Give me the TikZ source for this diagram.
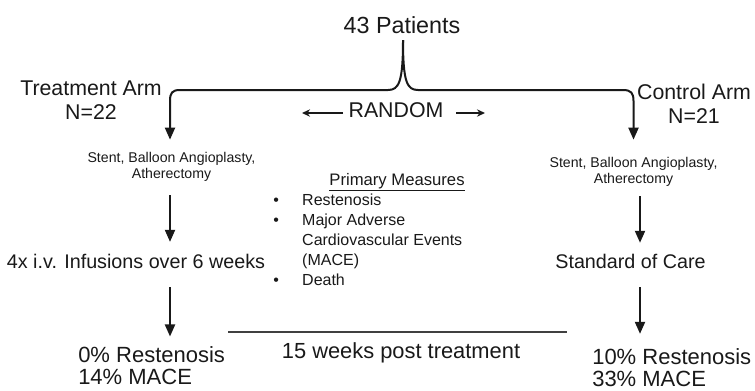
\documentclass[tikz,border=0pt]{standalone}
\usepackage{fontspec}
\setmainfont{Liberation Sans}
\usepackage{tikz}
\usetikzlibrary{arrows.meta, calc, positioning}

\begin{document}
\begin{tikzpicture}[x=0.75pt, y=-0.75pt,
    every node/.style={inner sep=0pt, text=black!90},
    flow/.style={-{Triangle[length=9pt, width=7.5pt]}, line width=1.5pt, black!90},
    side/.style={-{Stealth[length=6pt, width=5.5pt]}, line width=1.1pt, black!90},
    big/.style={font=\fontsize{16}{18}\selectfont},
    mid/.style={font=\fontsize{14.8}{17}\selectfont},
    res/.style={font=\fontsize{16.5}{17}\selectfont, align=left, anchor=west},
    small/.style={font=\fontsize{10.6}{12}\selectfont, align=center}]
    \useasboundingbox (0,0) rectangle (755,390);

    % top and the two arms
    \node[font=\fontsize{17.5}{20}\selectfont, anchor=base] (pat) at (402,33) {43 Patients};
    \node[big, align=center] (tarm) at (91,100) {Treatment Arm\\N=22};
    \node[big, align=center] (carm) at (694,103.5) {Control Arm\\N=21};
    \node[big, anchor=base] (rand) at (396,117) {RANDOM};

    \node[small] (lstent) at (171.5,166.5) {Stent, Balloon Angioplasty,\\Atherectomy};
    \node[small] (rstent) at (633.5,171.5) {Stent, Balloon Angioplasty,\\Atherectomy};

    \node[mid, anchor=base] (linf) at (136,268) {4x i.v. Infusions over 6 weeks};
    \node[mid, anchor=base] (rsoc) at (630.5,268) {Standard of Care};

    \node[res] (lres) at (78,365.5) {0\% Restenosis\\14\% MACE};
    \node[res] (rres) at (592,367.5) {10\% Restenosis\\33\% MACE};
    \node[font=\fontsize{16.4}{18}\selectfont, anchor=base] (post) at (401,358) {15 weeks post treatment};

    % primary measures
    \node[font=\fontsize{12.5}{15}\selectfont, anchor=base] (meas) at (397,185) {\underline{Primary Measures}};
    \node[font=\fontsize{12}{15}\selectfont, anchor=north west] (list) at (273,191) {%
      \begin{tabular}{@{}l@{\hspace{17.5pt}}l@{}}
        \textbullet & Restenosis\\
        \textbullet & Major Adverse\\
                    & Cardiovascular Events\\
                    & (MACE)\\
        \textbullet & Death
      \end{tabular}};

    \coordinate (split) at (403,40);
    \coordinate (lcol) at (170,0);
    \coordinate (rcol) at (640,0);
    \coordinate (rl) at (302,113);
    \coordinate (rr) at (485,113);
    \coordinate (tl) at (228,332);
    \coordinate (tr) at (567,332);

    % randomisation brace
    \draw[flow, shorten >=9pt] (split) .. controls (403,82) and (399,90) .. (388,90) -- (180,90)
        .. controls (172,90) and (170,93) .. (170,101) -- (lstent.north -| lcol);
    \draw[flow, shorten >=12.75pt] (split) .. controls (403,82) and (407,90) .. (418,90) -- (623,90)
        .. controls (631,90) and (633.5,93) .. (633.5,101) -- (rstent.north);
    \draw[side, shorten <=4pt] (rand.west |- rl) -- (rl);
    \draw[side, shorten <=9.5pt] (rand.east |- rr) -- (rr);

    % treatment arm
    \draw[flow, shorten <=10.5pt, shorten >=8.7pt] (lstent.south -| lcol) -- (linf.north -| lcol);
    \draw[flow, shorten <=14.25pt, shorten >=7pt] (linf.south -| lcol) -- (lres.north -| lcol);

    % control arm
    \draw[flow, shorten <=7.5pt, shorten >=8pt] (rstent.south -| rcol) -- (rsoc.north -| rcol);
    \draw[flow, shorten <=14.25pt, shorten >=10.5pt] (rsoc.south -| rcol) -- (rres.north -| rcol);

    \draw[line width=1.5pt, black!75] (tl) -- (tr);
\end{tikzpicture}
\end{document}
